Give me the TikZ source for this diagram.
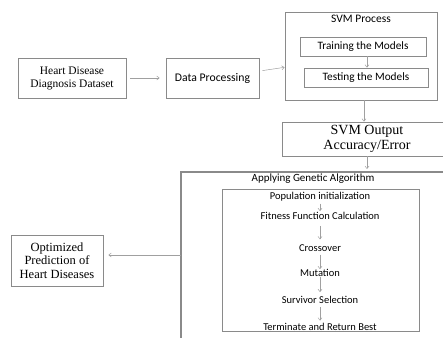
\documentclass[tikz,border=0pt]{standalone}
\usepackage{fontspec}
\setmainfont{Liberation Serif}
\newfontfamily\calib{Carlito}
\usetikzlibrary{arrows.meta}
\definecolor{boxgrey}{HTML}{8A8A8A}
\definecolor{arrgrey}{HTML}{A0A0A0}
\begin{document}
\begin{tikzpicture}
[x=1pt, y=-1pt,
 box/.style={draw=boxgrey, line width=0.8pt, inner sep=0, align=center},
 serifbox/.style={box, font=\fontsize{11.5}{13}\selectfont},
 sansbox/.style={box, font=\calib\fontsize{11.3}{13}\selectfont},
 stage/.style={inner sep=0, font=\calib\fontsize{10.5}{12}\selectfont},
 flow/.style={draw=arrgrey, line width=0.5pt, -{Straight Barb[length=2.5pt,width=4pt]}}]
\useasboundingbox (0,0) rectangle (443,337);
% input and preprocessing
\node [serifbox, minimum width=108pt, minimum height=40pt] (data) at (72,78) {Heart Disease\\Diagnosis Dataset};
\node [sansbox, minimum width=93pt, minimum height=40pt, font=\calib\fontsize{11.7}{13}\selectfont] (prep) at (212.5,78) {Data Processing};
% SVM stage
\node [box, minimum width=152pt, minimum height=88pt] (svm) at (361,56) {};
\node [inner sep=0, font=\calib\fontsize{11.5}{13}\selectfont] (svmt) at (361,18.5) {SVM Process};
\node [sansbox, minimum width=126pt, minimum height=19pt] (train) at (363,46.5) {Training the Models};
\node [sansbox, minimum width=124pt, minimum height=19pt] (test) at (366,77.5) {Testing the Models};
\node [box, minimum width=170pt, minimum height=34pt, font=\fontsize{14}{15}\selectfont] (out) at (367,139) {SVM Output\\Accuracy/Error};
\draw[flow, shorten <=4pt, shorten >=6pt] (data) -- (prep);
\draw[flow, shorten <=3pt] (prep) -- (svm);
\draw[flow] (train.south -| 367,0) -- (test.north -| 367,0);
\draw[flow] (svm.south -| 364,0) -- (out.north -| 364,0);
% genetic algorithm, box runs off the page
\coordinate (gatop) at (181,172);
\coordinate (gaend) at (450,172);
\coordinate (gabot) at (181,345);
\draw[boxgrey, line width=1.2pt] (gabot) -- (gatop) -- (gaend);
\node [inner sep=0, font=\calib\fontsize{11}{13}\selectfont] (gat) at (313,178.5) {Applying Genetic Algorithm};
\draw[flow] (out.south -| 367,0) -- (367,169);
\node [box, minimum width=197pt, minimum height=142pt] (ga) at (320.5,260) {};
\foreach \nam/\ypos/\lab in {pop/197/Population initialization, fit/216/Fitness Function Calculation,
  cross/248/Crossover, mut/273/Mutation, surv/300/Survivor Selection, term/326.5/Terminate and Return Best}
  \node [stage] (\nam) at (320,\ypos) {\lab};
\foreach \a/\b/\sa/\sb in {pop/fit/2/1, fit/cross/6/5, cross/mut/3/0, mut/surv/0/4, surv/term/3/2}
  \draw[flow, shorten <=\sa pt, shorten >=\sb pt] (\a) -- (\b);
% result
\node [box, minimum width=92pt, minimum height=51pt, font=\fontsize{12.5}{13.5}\selectfont] (opt) at (57,260.5) {Optimized\\Prediction of\\Heart Diseases};
\coordinate (gaout) at (181,255);
\draw[flow, shorten >=5pt] (gaout) -- (opt.east |- gaout);
\end{tikzpicture}
\end{document}
